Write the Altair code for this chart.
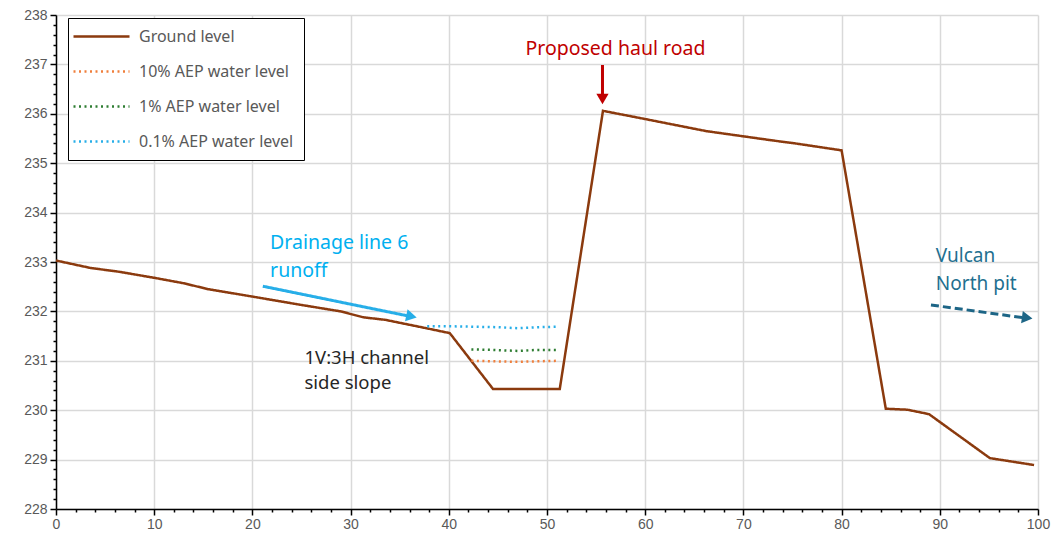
import altair as alt
import pandas as pd

# ---- data ----
ground_x = [0, 3.5, 6.5, 10, 13, 15.5, 20, 25, 29, 31.3, 33.5, 37.7, 40.1, 44.5, 51.3, 55.7,
            60.1, 66.2, 73, 75.3, 80.0, 84.5, 86.7, 88.9, 95.1, 99.6]
ground_y = [233.03, 232.88, 232.80, 232.68, 232.57, 232.45, 232.30, 232.13, 232.0, 231.88, 231.83, 231.66, 231.56,
            230.43, 230.43, 236.06, 235.89, 235.65, 235.46, 235.40, 235.26, 230.03, 230.01, 229.92, 229.03, 228.89]

aep10_x = [42.3, 44.5, 47, 49, 51.1]
aep10_y = [231.00, 230.99, 230.98, 230.99, 231.00]
aep1_x = [42.3, 44.5, 47, 49, 51.1]
aep1_y = [231.23, 231.22, 231.20, 231.22, 231.22]
aep01_x = [37.8, 40, 42.5, 45, 47, 49, 51.1]
aep01_y = [231.70, 231.70, 231.69, 231.68, 231.66, 231.68, 231.69]

series_names = ["Ground level", "10% AEP water level", "1% AEP water level", "0.1% AEP water level"]
series_colors = ["#8B3A0E", "#F07F3C", "#2E7D32", "#27AEE8"]

ann_text = ["Proposed haul road", "Drainage line 6", "runoff", "1V:3H channel", "side slope", "Vulcan", "North pit"]
ann_x = [56.97, 21.8, 21.8, 25.3, 25.3, 89.6, 89.6]
ann_y = [237.31, 233.38, 232.82, 231.06, 230.55, 233.12, 232.55]
ann_color = ["#C00000", "#00B0F0", "#00B0F0", "#262626", "#262626", "#226F8F", "#226F8F"]
ann_align = ["center", "left", "left", "left", "left", "left", "left"]
ann_size = [19.5, 19.5, 19.5, 18.5, 18.5, 19, 19]

arrow_x = [55.65, 21.06, 89.1]
arrow_y = [236.99, 232.51, 232.13]
arrow_x2 = [55.65, 35.8, 98.6]
arrow_y2 = [236.30, 231.91, 231.87]
arrow_color = ["#C00000", "#27AEE8", "#1D6586"]
arrow_dash = ["solid", "solid", "dashed"]
head_x = [55.65, 36.2, 98.9]
head_y = [236.30, 231.90, 231.87]
head_angle = [90, 12, 8]

# ---- tables ----
rows = []
for name, xs, ys in zip(series_names, [ground_x, aep10_x, aep1_x, aep01_x], [ground_y, aep10_y, aep1_y, aep01_y]):
    for i, (a, b) in enumerate(zip(xs, ys)):
        rows.append({"series": name, "x": a, "y": b, "order": i})
lines_df = pd.DataFrame(rows)

ann_df = pd.DataFrame({"text": ann_text, "x": ann_x, "y": ann_y, "color": ann_color,
                       "align": ann_align, "size": ann_size})
arrow_df = pd.DataFrame({"x": arrow_x, "y": arrow_y, "x2": arrow_x2, "y2": arrow_y2,
                         "color": arrow_color, "dash": arrow_dash})
head_df = pd.DataFrame({"x": head_x, "y": head_y, "angle": head_angle, "color": arrow_color})

xvals = list(range(0, 101, 2))
yvals = [round(228 + i * 0.2, 1) for i in range(51)]

xscale = alt.Scale(domain=[0, 100], nice=False, zero=False)
yscale = alt.Scale(domain=[228, 238], nice=False, zero=False)

x_major = "datum.value % 10 === 0"
y_major = "abs(datum.value - round(datum.value)) < 0.01"

xaxis = alt.Axis(values=xvals, tickCount=200, title=None,
                 labelExpr=f"{x_major} ? format(datum.value, 'd') : ''",
                 tickSize={"condition": {"test": x_major, "value": 6}, "value": 3},
                 gridOpacity={"condition": {"test": x_major, "value": 1}, "value": 0},
                 labelOverlap=False, labelFlush=False, labelPadding=2)
yaxis = alt.Axis(values=yvals, tickCount=200, title=None,
                 labelExpr=f"{y_major} ? format(datum.value, 'd') : ''",
                 tickSize={"condition": {"test": y_major, "value": 6}, "value": 3},
                 gridOpacity={"condition": {"test": y_major, "value": 1}, "value": 0},
                 labelOverlap=False, labelFlush=False, labelPadding=3)

lines = alt.Chart(lines_df).mark_line(strokeWidth=2.5, strokeCap="butt").encode(
    x=alt.X("x:Q", scale=xscale, axis=xaxis),
    y=alt.Y("y:Q", scale=yscale, axis=yaxis),
    order="order:Q",
    color=alt.Color("series:N", scale=alt.Scale(domain=series_names, range=series_colors),
                    sort=series_names,
                    legend=alt.Legend(title=None, orient="none", legendX=12, legendY=3,
                                      symbolType="M-4,0H4", symbolSize=196, symbolOffset=15,
                                      symbolStrokeWidth=2.5, labelOffset=29,
                                      labelFont="Noto Sans", labelFontSize=16, labelColor="#595959",
                                      rowPadding=18, padding=10, strokeColor="black",
                                      fillColor="white", labelLimit=300)),
    strokeDash=alt.StrokeDash("series:N", scale=alt.Scale(domain=series_names,
                                                           range=[[1, 0], [2, 3.5], [2, 3.5], [2, 3.5]]),
                              sort=series_names),
)

anns_left = alt.Chart(ann_df).transform_filter("datum.align == 'left'").mark_text(
    font="Noto Sans", baseline="middle", align="left").encode(
    x="x:Q", y="y:Q", text="text:N",
    color=alt.Color("color:N", scale=None), size=alt.Size("size:Q", scale=None))
anns_center = alt.Chart(ann_df).transform_filter("datum.align == 'center'").mark_text(
    font="Noto Sans", baseline="middle", align="center").encode(
    x="x:Q", y="y:Q", text="text:N",
    color=alt.Color("color:N", scale=None), size=alt.Size("size:Q", scale=None))

arrows = alt.Chart(arrow_df).mark_rule(strokeWidth=3).encode(
    x="x:Q", y="y:Q", x2="x2:Q", y2="y2:Q",
    color=alt.Color("color:N", scale=None),
    strokeDash=alt.StrokeDash("dash:N", scale=alt.Scale(domain=["solid", "dashed"], range=[[1, 0], [8, 4]]),
                              legend=None),
)
heads = alt.Chart(head_df).mark_point(shape="triangle-right", filled=True, size=150, opacity=1).encode(
    x="x:Q", y="y:Q",
    angle=alt.Angle("angle:Q", scale=None),
    color=alt.Color("color:N", scale=None),
)

chart = alt.layer(lines, arrows, heads, anns_left, anns_center).resolve_scale(
    color="independent", strokeDash="independent"
).properties(
    width=982, height=494,
    padding={"left": 48, "top": 7, "right": 16, "bottom": 30},
    autosize=alt.AutoSizeParams(type="none"),
).configure_view(stroke=None).configure_axis(
    labelFont="Liberation Sans", labelFontSize=14, labelColor="#595959",
    domainColor="black", domainWidth=1.5, tickColor="black", tickWidth=1.5,
    gridColor="#D9D9D9", gridWidth=1.5,
)

chart.save("out.html", embed_options={"renderer": "svg", "actions": False})
